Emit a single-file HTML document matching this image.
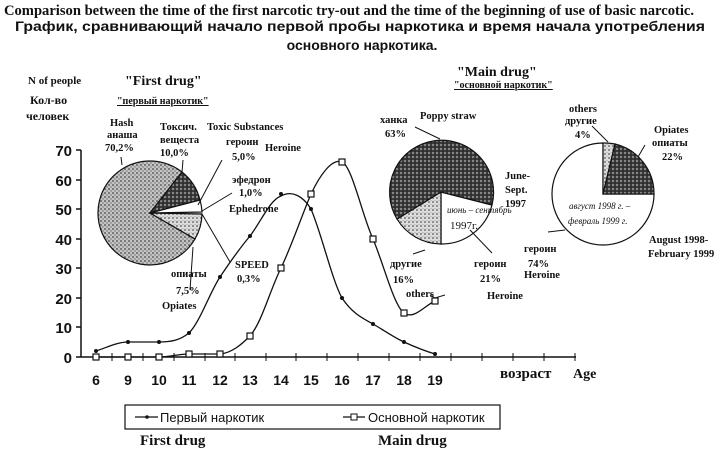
<!DOCTYPE html>
<html><head><meta charset="utf-8"><style>
body{margin:0;background:#fff;}
svg{display:block}
.t{font-family:"Liberation Serif",serif;font-weight:bold;fill:#111}
.s{font-family:"Liberation Sans","DejaVu Sans",sans-serif;font-weight:bold;fill:#111}
</style></head><body>
<svg width="720" height="452" viewBox="0 0 720 452" xmlns="http://www.w3.org/2000/svg">
<defs>
<pattern id="pL" width="4" height="4" patternUnits="userSpaceOnUse"><rect width="4" height="4" fill="#c4c4c4"/><circle cx="1" cy="1" r="0.9" fill="#444"/><circle cx="3" cy="3" r="0.7" fill="#666"/></pattern>
<pattern id="pD" width="4" height="4" patternUnits="userSpaceOnUse"><rect width="4" height="4" fill="#3a3a3a"/><circle cx="1" cy="1" r="0.9" fill="#bbb"/><circle cx="3" cy="3" r="0.6" fill="#111"/></pattern>
<pattern id="pM" width="4" height="4" patternUnits="userSpaceOnUse"><rect width="4" height="4" fill="#ddd"/><circle cx="1" cy="2" r="0.9" fill="#555"/><circle cx="3" cy="0" r="0.6" fill="#777"/></pattern>
</defs>
<text class="t" x="4" y="15" font-size="15" textLength="690" lengthAdjust="spacingAndGlyphs">Comparison between the time of the first narcotic try-out and the time of the beginning of use of basic narcotic.</text>
<text class="s" x="360" y="31" font-size="14" text-anchor="middle" textLength="690" lengthAdjust="spacingAndGlyphs">График, сравнивающий начало первой пробы наркотика и  время  начала употребления</text>
<text class="s" x="362" y="50" font-size="14" text-anchor="middle">основного наркотика.</text>

<text class="t" x="28" y="84" font-size="11">N of people</text>
<text class="t" x="30" y="104" font-size="12">Кол-во</text>
<text class="t" x="26" y="120" font-size="12">человек</text>
<text class="t" x="125" y="85" font-size="14">"First drug"</text>
<text class="t" x="117" y="104" font-size="10" text-decoration="underline">"первый наркотик"</text>
<text class="t" x="457" y="76" font-size="14">"Main drug"</text>
<text class="t" x="454" y="88" font-size="10" text-decoration="underline">"основной наркотик"</text>

<g stroke="#111" stroke-width="1.5" fill="none">
<line x1="81" y1="150" x2="81" y2="357"/>
<line x1="76" y1="357" x2="576" y2="357"/>
<line x1="76" y1="150" x2="81" y2="150"/><line x1="76" y1="180" x2="81" y2="180"/><line x1="76" y1="209" x2="81" y2="209"/><line x1="76" y1="239" x2="81" y2="239"/><line x1="76" y1="268" x2="81" y2="268"/><line x1="76" y1="298" x2="81" y2="298"/><line x1="76" y1="327" x2="81" y2="327"/>
</g>
<g stroke="#111" stroke-width="1">
<line x1="112" y1="353" x2="112" y2="361"/><line x1="143" y1="353" x2="143" y2="361"/><line x1="174" y1="353" x2="174" y2="361"/><line x1="205" y1="353" x2="205" y2="361"/><line x1="235" y1="353" x2="235" y2="361"/><line x1="266" y1="353" x2="266" y2="361"/><line x1="296" y1="353" x2="296" y2="361"/><line x1="327" y1="353" x2="327" y2="361"/><line x1="358" y1="353" x2="358" y2="361"/><line x1="389" y1="353" x2="389" y2="361"/><line x1="420" y1="353" x2="420" y2="361"/><line x1="451" y1="353" x2="451" y2="361"/><line x1="482" y1="353" x2="482" y2="361"/><line x1="513" y1="353" x2="513" y2="361"/><line x1="544" y1="353" x2="544" y2="361"/><line x1="575" y1="353" x2="575" y2="361"/>
</g>
<g class="s" font-size="15" text-anchor="end">
<text x="72" y="156">70</text><text x="72" y="186">60</text><text x="72" y="215">50</text><text x="72" y="245">40</text><text x="72" y="274">30</text><text x="72" y="304">20</text><text x="72" y="333">10</text><text x="72" y="363">0</text>
</g>
<g class="s" font-size="14" text-anchor="middle">
<text x="96" y="385">6</text><text x="128" y="385">9</text><text x="159" y="385">10</text><text x="189" y="385">11</text><text x="220" y="385">12</text><text x="250" y="385">13</text><text x="281" y="385">14</text><text x="311" y="385">15</text><text x="342" y="385">16</text><text x="373" y="385">17</text><text x="404" y="385">18</text><text x="435" y="385">19</text>
</g>
<text class="t" x="500" y="378" font-size="15" font-weight="normal">возраст</text>
<text class="t" x="573" y="378" font-size="14">Age</text>

<path fill="none" stroke="#111" stroke-width="1.3" d="M96,351 C108,347 118,342 128,342 L159,342 C172,342 180,340 189,333 C200,322 210,292 220,277 C230,262 240,248 250,236 C262,220 270,200 281,196 C292,190 303,196 311,209 C322,235 332,280 342,298 C352,313 362,318 373,324 C385,331 395,338 404,342 C415,347 425,351 435,354"/>
<g fill="#111"><circle cx="96" cy="351" r="2"/><circle cx="128" cy="342" r="2"/><circle cx="159" cy="342" r="2"/><circle cx="189" cy="333" r="2"/><circle cx="220" cy="277" r="2"/><circle cx="250" cy="236" r="2"/><circle cx="281" cy="194" r="2"/><circle cx="311" cy="209" r="2"/><circle cx="342" cy="298" r="2"/><circle cx="373" cy="324" r="2"/><circle cx="404" cy="342" r="2"/><circle cx="435" cy="354" r="2"/></g>
<path fill="none" stroke="#111" stroke-width="1.3" d="M96,357 L159,357 C170,357 178,354 189,354 L220,354 C232,353 242,344 250,336 C262,322 270,290 281,268 C292,245 302,215 311,194 C320,175 332,158 342,162 C352,166 362,215 373,239 C384,265 394,306 404,313 C414,320 424,306 435,301"/>
<g fill="#fff" stroke="#111" stroke-width="1.2"><rect x="93" y="354" width="6" height="6"/><rect x="125" y="354" width="6" height="6"/><rect x="156" y="354" width="6" height="6"/><rect x="186" y="351" width="6" height="6"/><rect x="217" y="351" width="6" height="6"/><rect x="247" y="333" width="6" height="6"/><rect x="278" y="265" width="6" height="6"/><rect x="308" y="191" width="6" height="6"/><rect x="339" y="159" width="6" height="6"/><rect x="370" y="236" width="6" height="6"/><rect x="401" y="310" width="6" height="6"/><rect x="432" y="298" width="6" height="6"/></g>

<g stroke="#111" stroke-width="1.2">
<path d="M150,213 L195,239 A52,52 0 1 1 182,172 Z" fill="url(#pL)"/>
<path d="M150,213 L182,172 A52,52 0 0 1 200,200 Z" fill="url(#pD)"/>
<path d="M150,213 L200,200 A52,52 0 0 1 202,212 Z" fill="#fff"/>
<path d="M150,213 L202,214 A52,52 0 0 1 195,239 Z" fill="url(#pM)"/>
</g>
<g stroke="#111" stroke-width="1" fill="none">
<path d="M122,165 L121,157"/><path d="M183,160 L182,172"/>
<path d="M198,205 L222,160"/><path d="M202,211 L232,193"/><path d="M202,214 L230,262"/><path d="M193,247 L190,290"/>
</g>
<g class="t" font-size="10.5">
<text x="110" y="126">Hash</text><text x="107" y="138">анаша</text><text x="105" y="151">70,2%</text>
<text x="160" y="130">Токсич.</text><text x="160" y="143">вещеста</text><text x="160" y="156">10,0%</text>
<text x="207" y="130">Toxic Substances</text>
<text x="226" y="145">героин</text><text x="265" y="151">Heroine</text><text x="232" y="160">5,0%</text>
<text x="232" y="183">эфедрон</text><text x="239" y="196">1,0%</text><text x="229" y="212">Ephedrone</text>
<text x="235" y="268">SPEED</text><text x="237" y="282">0,3%</text>
<text x="171" y="277">опиаты</text><text x="176" y="294">7,5%</text><text x="162" y="309">Opiates</text>
</g>

<g stroke="#111" stroke-width="1.2">
<path d="M441,192 L492,205 A52,52 0 0 1 441,244 Z" fill="#fff"/>
<path d="M441,192 L441,244 A52,52 0 0 1 397,219 Z" fill="url(#pM)"/>
<path d="M441,192 L397,219 A52,52 0 1 1 492,205 Z" fill="url(#pD)"/>
</g>
<g stroke="#111" stroke-width="1" fill="none">
<path d="M415,127 L440,139"/><path d="M425,250 L413,254"/><path d="M470,230 L492,253"/><path d="M430,295 L435,298 L445,295"/>
</g>
<g class="t" font-size="10.5">
<text x="380" y="123">ханка</text><text x="385" y="137">63%</text><text x="420" y="119">Poppy straw</text>
<text x="505" y="179">June-</text><text x="505" y="193">Sept.</text><text x="505" y="207">1997</text>
<text x="447" y="213" font-style="italic" font-weight="normal" font-size="9">июнь – сентябрь</text><text x="450" y="229" font-weight="normal" font-size="11">1997г.</text>
<text x="390" y="267">другие</text><text x="393" y="283">16%</text><text x="406" y="297">others</text>
<text x="474" y="267">героин</text><text x="480" y="282">21%</text><text x="487" y="299">Heroine</text>
</g>

<g stroke="#111" stroke-width="1.2">
<path d="M603,194 L654,194 A51,51 0 1 1 603,143 Z" fill="#fff"/>
<path d="M603,194 L603,143 A51,51 0 0 1 615,144 Z" fill="url(#pM)"/>
<path d="M603,194 L615,144 A51,51 0 0 1 654,194 Z" fill="url(#pD)"/>
</g>
<g stroke="#111" stroke-width="1" fill="none">
<path d="M592,126 L608,142"/><path d="M645,145 L638,157"/><path d="M548,232 L565,230"/>
</g>
<g class="t" font-size="10.5">
<text x="569" y="112">others</text><text x="565" y="124">другие</text><text x="575" y="138">4%</text>
<text x="654" y="133">Opiates</text><text x="652" y="146">опиаты</text><text x="662" y="160">22%</text>
<text x="569" y="209" font-style="italic" font-weight="normal" font-size="9">август 1998 г. –</text><text x="568" y="224" font-style="italic" font-weight="normal" font-size="9">февраль 1999 г.</text>
<text x="524" y="252">героин</text><text x="528" y="267">74%</text><text x="524" y="278">Heroine</text>
<text x="649" y="243">August 1998-</text><text x="648" y="257">February 1999</text>
</g>

<rect x="125" y="405" width="375" height="24" fill="#fff" stroke="#111" stroke-width="1.2"/>
<line x1="135" y1="417" x2="158" y2="417" stroke="#111" stroke-width="1.2"/><circle cx="147" cy="417" r="1.8" fill="#111"/>
<text x="160" y="422" font-family="Liberation Sans,sans-serif" font-size="13" fill="#111">Первый наркотик</text>
<line x1="343" y1="417" x2="365" y2="417" stroke="#111" stroke-width="1.2"/><rect x="351" y="414" width="6" height="6" fill="#fff" stroke="#111"/>
<text x="368" y="422" font-family="Liberation Sans,sans-serif" font-size="13" fill="#111">Основной наркотик</text>
<text class="t" x="140" y="445" font-size="15" font-weight="normal">First drug</text>
<text class="t" x="378" y="445" font-size="15" font-weight="normal">Main drug</text>
</svg>
</body></html>
